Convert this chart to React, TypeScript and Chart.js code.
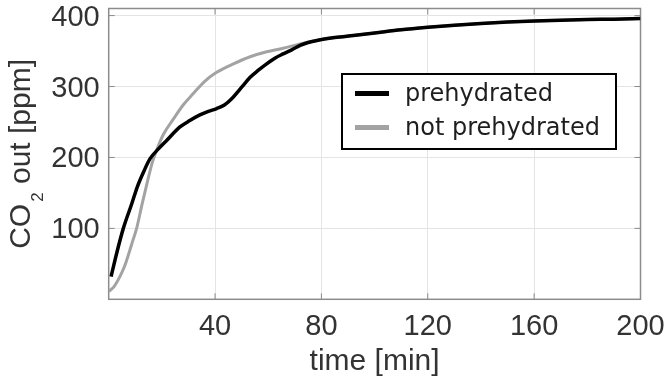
import React, { useEffect, useRef } from 'react';
import { Chart, registerables } from 'chart.js';

Chart.register(...registerables);

// ---- data ----
const timePrehydrated = [0.9, 3, 5.5, 8.7, 10.8, 13.4, 15.5, 18.7, 21.8, 26.8, 30.5, 34.3, 37.5, 40.6, 43.5, 46.8, 50, 53.2, 56.3, 59.4, 62.5, 65.6, 69, 72, 75, 78.3, 85, 92, 100, 110, 120, 130, 140, 150, 160, 170, 180, 190, 200];
const co2Prehydrated = [32, 65, 100, 135, 159, 182, 198, 212, 224, 243, 252, 260, 265, 269, 274, 285, 299, 313, 323, 332, 340, 346, 352, 358, 362, 365, 369, 372, 375.5, 380, 383.5, 386.5, 389, 391, 392.5, 393.5, 394.5, 395, 396];

const timeNotPrehydrated = [0, 2, 4.2, 6, 7.6, 9, 10.5, 12.6, 14.7, 16.4, 18.2, 20.5, 24.3, 28, 31.8, 36, 40.6, 46.9, 53.2, 59.4, 65.6, 72, 78.3, 85, 92, 100, 110, 120, 130, 140, 150, 160, 170, 180, 190, 200];
const co2NotPrehydrated = [11, 18, 32, 47, 65, 82, 100, 135, 168, 193, 212, 232, 254, 274, 290, 307, 320, 332, 342, 349, 354, 360, 365, 369, 372, 375.5, 380, 383.5, 386.5, 389, 391, 392.5, 393.5, 394.5, 395, 396];

const seriesLabels = ['prehydrated', 'not prehydrated'];
const xTickValues = [40, 80, 120, 160, 200];
const yTickValues = [100, 200, 300, 400];
const xAxisTitle = 'time [min]';
const yAxisTitleParts = ['CO', '2', ' out [ppm]'];

const FONT = '"Liberation Sans", Arial, Helvetica, sans-serif';
const TEXT = '#333333';
const GRAY_LINE = '#a3a3a3';

const framePlugin = {
  id: 'frame',
  beforeDatasetsDraw(chart: any) {
    const { ctx, chartArea } = chart;
    const { left, right, top, bottom } = chartArea;
    const xs = chart.scales.x;
    const ys = chart.scales.y;
    ctx.save();
    ctx.strokeStyle = '#8a8a8a';
    ctx.lineWidth = 1;
    ctx.beginPath();
    xTickValues.forEach((v) => {
      const px = xs.getPixelForValue(v);
      ctx.moveTo(px, bottom);
      ctx.lineTo(px, bottom - 6);
      ctx.moveTo(px, top);
      ctx.lineTo(px, top + 6);
    });
    yTickValues.forEach((v) => {
      const py = ys.getPixelForValue(v);
      ctx.moveTo(left, py);
      ctx.lineTo(left + 6, py);
      ctx.moveTo(right, py);
      ctx.lineTo(right - 6, py);
    });
    ctx.stroke();
    ctx.strokeStyle = '#8c8c8c';
    ctx.lineWidth = 1.5;
    ctx.strokeRect(left, top, right - left, bottom - top);
    ctx.restore();
  },
};

const overlayPlugin = {
  id: 'overlay',
  afterDraw(chart: any) {
    const { ctx, chartArea } = chart;
    ctx.save();
    // y-axis title with subscript
    const cy = (chartArea.top + chartArea.bottom) / 2;
    ctx.translate(30, cy);
    ctx.rotate(-Math.PI / 2);
    ctx.fillStyle = TEXT;
    ctx.textBaseline = 'alphabetic';
    ctx.textAlign = 'left';
    const mainFont = `30px ${FONT}`;
    const subFont = `17px ${FONT}`;
    ctx.font = mainFont;
    const w0 = ctx.measureText(yAxisTitleParts[0]).width;
    const w2 = ctx.measureText(yAxisTitleParts[2]).width;
    ctx.font = subFont;
    const w1 = ctx.measureText(yAxisTitleParts[1]).width;
    const gap = 2;
    const total = w0 + gap + w1 + w2;
    let x = -total / 2;
    ctx.font = mainFont;
    ctx.fillText(yAxisTitleParts[0], x, 0);
    x += w0 + gap;
    ctx.font = subFont;
    ctx.fillText(yAxisTitleParts[1], x, 13);
    x += w1;
    ctx.font = mainFont;
    ctx.fillText(yAxisTitleParts[2], x, 0);
    ctx.restore();

    // legend box
    ctx.save();
    const bx = 342, by = 74, bw = 274, bh = 75;
    ctx.fillStyle = '#ffffff';
    ctx.fillRect(bx, by, bw, bh);
    ctx.strokeStyle = '#000000';
    ctx.lineWidth = 2;
    ctx.strokeRect(bx, by, bw, bh);
    const rows = [93.5, 127.5];
    chart.data.datasets.forEach((ds: any, i: number) => {
      const y = rows[i];
      ctx.strokeStyle = ds.borderColor;
      ctx.lineWidth = 5;
      ctx.beginPath();
      ctx.moveTo(355, y);
      ctx.lineTo(389, y);
      ctx.stroke();
      ctx.fillStyle = '#1e1e1e';
      ctx.font = `24px "DejaVu Sans", sans-serif`;
      ctx.textBaseline = 'alphabetic';
      ctx.textAlign = 'left';
      ctx.fillText(seriesLabels[i], 405, y + 7);
    });
    ctx.restore();
  },
};

export default function App() {
  const ref = useRef<HTMLCanvasElement>(null);
  useEffect(() => {
    const canvas = ref.current;
    if (!canvas) return;
    const chart = new Chart(canvas, {
      type: 'line',
      data: {
        datasets: [
          {
            label: seriesLabels[0],
            data: timePrehydrated.map((t, i) => ({ x: t, y: co2Prehydrated[i] })),
            borderColor: '#000000',
            borderWidth: 3.5,
            pointRadius: 0,
            cubicInterpolationMode: 'monotone',
            fill: false,
          },
          {
            label: seriesLabels[1],
            data: timeNotPrehydrated.map((t, i) => ({ x: t, y: co2NotPrehydrated[i] })),
            borderColor: GRAY_LINE,
            borderWidth: 3,
            pointRadius: 0,
            cubicInterpolationMode: 'monotone',
            fill: false,
          },
        ],
      },
      options: {
        animation: false,
        responsive: false,
        devicePixelRatio: 1,
        layout: { padding: { top: 8.5, right: 25.5, left: 0, bottom: 0 } },
        plugins: { legend: { display: false }, tooltip: { enabled: false } },
        scales: {
          x: {
            type: 'linear',
            min: 0,
            max: 200,
            afterFit: (s: any) => { s.height = 84.7; s.paddingLeft = 0; s.paddingRight = 0; },
            afterBuildTicks: (s: any) => { s.ticks = xTickValues.map((v) => ({ value: v })); },
            grid: { color: '#e4e4e4', lineWidth: 1, drawTicks: false },
            border: { display: false },
            ticks: { padding: 10, color: TEXT, font: { family: FONT, size: 29 }, maxRotation: 0, autoSkip: false },
            title: { display: true, text: xAxisTitle, color: TEXT, font: { family: FONT, size: 30 }, padding: { top: 0, bottom: 4 } },
          },
          y: {
            type: 'linear',
            min: 0,
            max: 410,
            afterFit: (s: any) => { s.width = 108.7; s.paddingTop = 0; s.paddingBottom = 0; },
            afterBuildTicks: (s: any) => { s.ticks = yTickValues.map((v) => ({ value: v })); },
            grid: { color: '#e4e4e4', lineWidth: 1, drawTicks: false },
            border: { display: false },
            ticks: { padding: 9, labelOffset: 2, color: TEXT, font: { family: FONT, size: 29 }, autoSkip: false },
          },
        },
      } as any,
      plugins: [framePlugin, overlayPlugin],
    });
    return () => chart.destroy();
  }, []);
  return (
    <div style={{ position: 'absolute', left: 0, top: 0, width: 666, height: 384, background: '#ffffff' }}>
      <canvas ref={ref} width={666} height={384} style={{ display: 'block' }} />
    </div>
  );
}
